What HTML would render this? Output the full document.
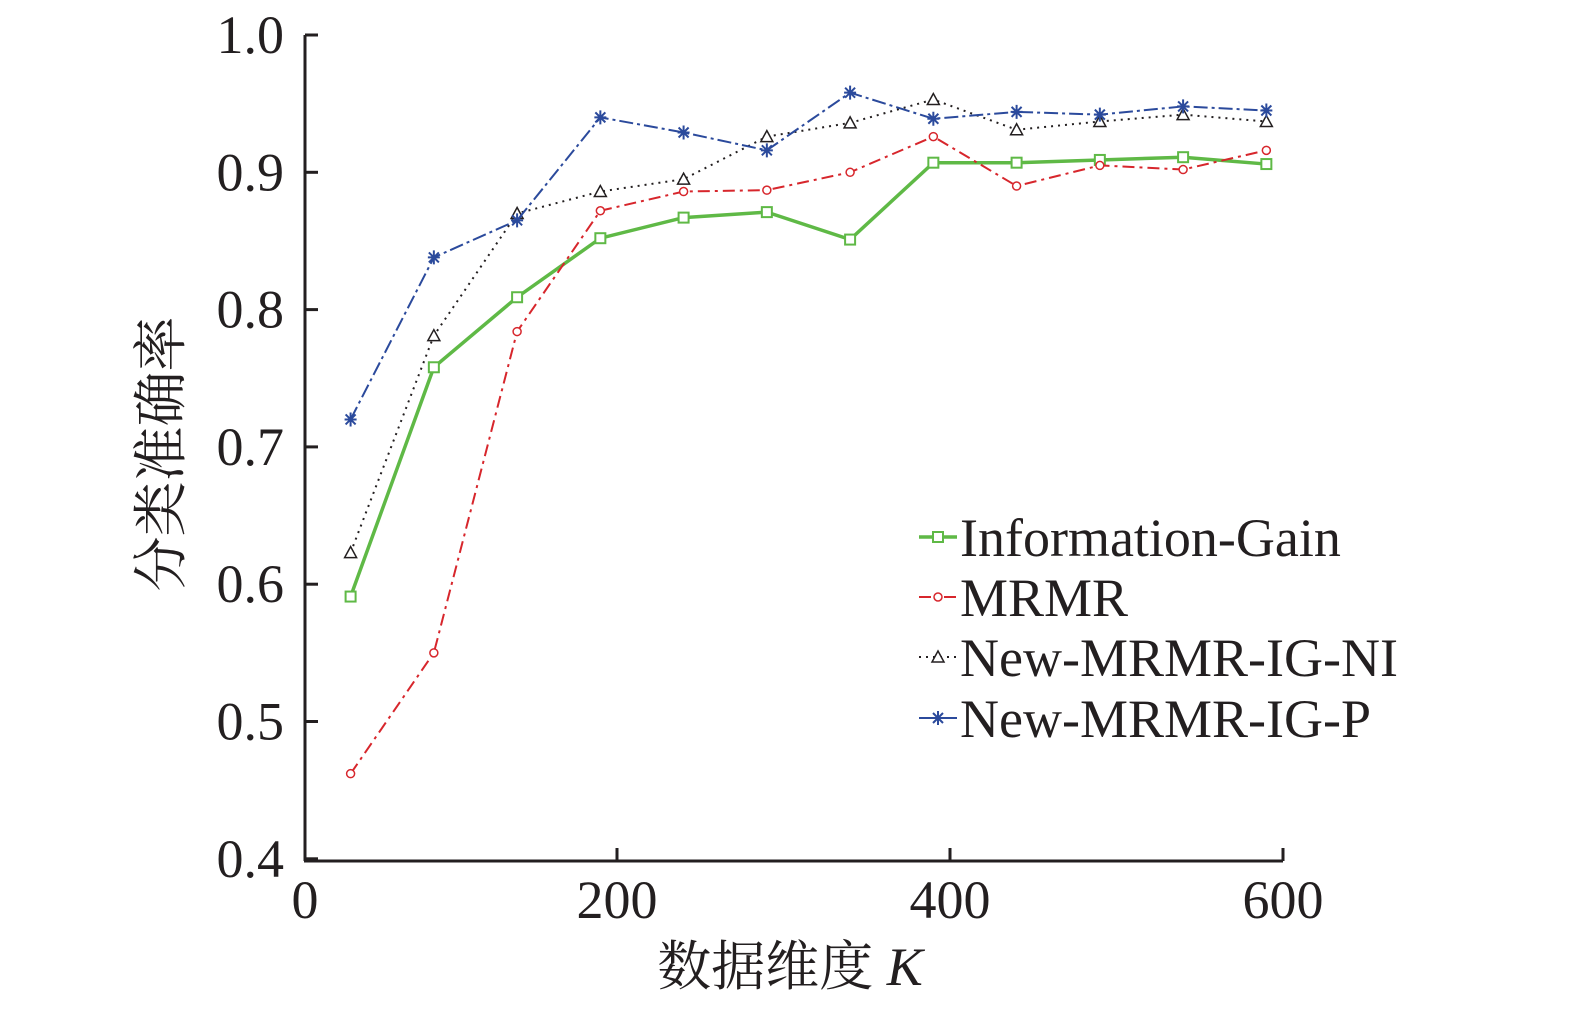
<!DOCTYPE html>
<html><head><meta charset="utf-8"><style>
body{margin:0;background:#fff}
svg{display:block}
text{font-family:"Liberation Serif","Noto Serif CJK SC",serif;fill:#231f20}
</style></head><body>
<svg id="chart" width="1575" height="1010" viewBox="0 0 1575 1010" xmlns="http://www.w3.org/2000/svg">
<g id="axes"></g>
<g id="series"></g>
<g id="legend"></g>
<text transform="translate(180,454) rotate(-90)" text-anchor="middle" font-size="55" font-family="Noto Serif CJK SC, serif">分类准确率</text>
<text x="790" y="985" text-anchor="middle" font-size="54">数据维度 <tspan font-style="italic">K</tspan></text>
</svg>
<script>
const categories=[40,90,140,190,240,290,340,390,440,490,540,590];
const igValues=[0.591,0.758,0.809,0.852,0.867,0.871,0.851,0.907,0.907,0.909,0.911,0.906];
const mrmrValues=[0.462,0.550,0.784,0.872,0.886,0.887,0.900,0.926,0.890,0.905,0.902,0.916];
const niValues=[0.623,0.781,0.870,0.886,0.895,0.926,0.936,0.953,0.931,0.937,0.942,0.937];
const pValues=[0.720,0.838,0.865,0.940,0.929,0.916,0.958,0.939,0.944,0.942,0.948,0.945];
const xTicks=[0,200,400,600];
const yTicks=[0.4,0.5,0.6,0.7,0.8,0.9,1.0];
const seriesNames=["Information-Gain","MRMR","New-MRMR-IG-NI","New-MRMR-IG-P"];

const NS="http://www.w3.org/2000/svg";
const X0=305,Y0=861;
function xs(v){return 284+v*1.665;}
function ys(v){return 35+(1.0-v)*1373;}
function mk(tag,attrs,parent){const e=document.createElementNS(NS,tag);for(const k in attrs)e.setAttribute(k,attrs[k]);parent.appendChild(e);return e;}
const axes=document.getElementById('axes');
let l=mk('line',{x1:X0,y1:35,x2:X0,y2:Y0,stroke:'#231f20','stroke-width':3},axes);


l=mk('line',{x1:X0-1,y1:Y0,x2:xs(600),y2:Y0,stroke:'#231f20','stroke-width':3},axes);


xTicks.forEach(t=>{
  const x=t===0?X0:xs(t);
  if(t!==0){const tk=mk('line',{x1:x,y1:Y0,x2:x,y2:Y0-13,stroke:'#231f20','stroke-width':3},axes);
  
  }
  const tx=mk('text',{x:x,y:918,'text-anchor':'middle','font-size':54},axes);
  tx.textContent=String(t);
  
  
});
yTicks.forEach(t=>{
  const y=ys(t);
  const tk=mk('line',{x1:X0,y1:y,x2:X0+13,y2:y,stroke:'#231f20','stroke-width':3},axes);
  
  
  const tx=mk('text',{x:284,y:y+18,'text-anchor':'end','font-size':54},axes);
  tx.textContent=t.toFixed(1);
  
  
});
const styles=[
 {c:'#5fb946',dash:'',w:3.5,m:'square'},
 {c:'#d7262c',dash:'12 5 3 5',w:2,m:'circle'},
 {c:'#231f20',dash:'2 5',w:2,m:'triangle'},
 {c:'#2b4a9c',dash:'14 4 3 4',w:2,m:'star'}];
function marker(g,type,x,y,c){
  let e;
  if(type==='square')e=mk('rect',{x:x-5,y:y-5,width:10,height:10,fill:'#fff',stroke:c,'stroke-width':2},g);
  else if(type==='circle')e=mk('circle',{cx:x,cy:y,r:4,fill:'#fff',stroke:c,'stroke-width':1.5},g);
  else if(type==='triangle')e=mk('polygon',{points:`${x},${y-6} ${x-6},${y+5} ${x+6},${y+5}`,fill:'#fff',stroke:c,'stroke-width':1.5},g);
  else e=mk('path',{d:`M${x-6},${y}H${x+6}M${x},${y-7}V${y+7}M${x-5},${y-5}L${x+5},${y+5}M${x+5},${y-5}L${x-5},${y+5}`,stroke:c,'stroke-width':2},g);
  
  
}
const seriesG=document.getElementById('series');
[igValues,mrmrValues,niValues,pValues].forEach((vals,i)=>{
  const s=styles[i];
  const g=mk('g',{},seriesG);
  
  
  const pts=vals.map((v,j)=>xs(categories[j])+','+ys(v)).join(' ');
  const pl=mk('polyline',{points:pts,fill:'none',stroke:s.c,'stroke-width':s.w,'stroke-dasharray':s.dash},g);
  
  
  vals.forEach((v,j)=>marker(g,s.m,xs(categories[j]),ys(v),s.c));
});
const lg=document.getElementById('legend');
const rowY=[537,597,657,718];
seriesNames.forEach((n,i)=>{
  const s=styles[i];
  const g=mk('g',{},lg);
  
  
  mk('line',{x1:919,y1:rowY[i],x2:957,y2:rowY[i],stroke:s.c,'stroke-width':s.w,'stroke-dasharray':s.dash},g);
  marker(g,s.m,938,rowY[i],s.c);
  const t=mk('text',{x:960,y:rowY[i]+19,'font-size':54},g);
  t.textContent=n;
  
  
});
</script>
</body></html>
